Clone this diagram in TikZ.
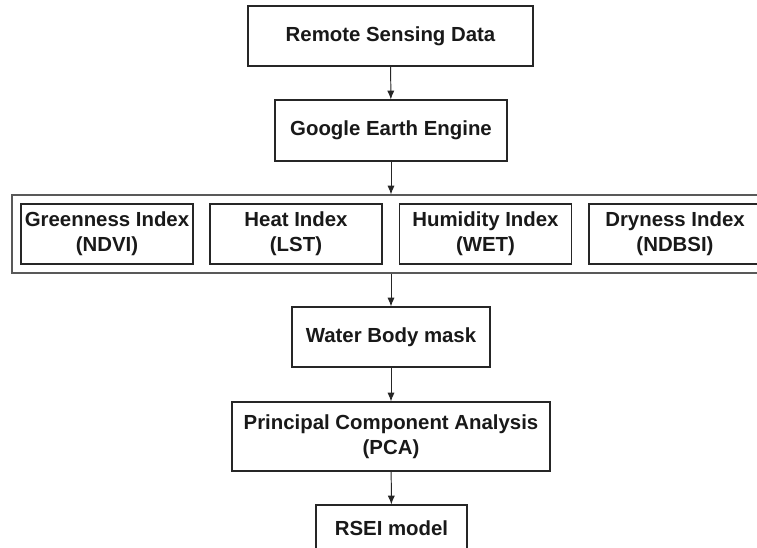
\documentclass[tikz,border=0pt]{standalone}
\usepackage{fontspec}
\setmainfont{Liberation Sans}
\usetikzlibrary{arrows.meta,positioning}

\begin{document}
\begin{tikzpicture}[x=0.025cm,y=-0.025cm,>=Latex,
  stepbox/.style={draw=black!85,line width=0.8pt,align=center,inner sep=2pt,
    font=\fontsize{14.5}{17.8}\selectfont\bfseries,text=black!90},
  groupbox/.style={draw=black!65,line width=0.8pt},
  flow/.style={->,black!85,line width=0.7pt,>={Latex[length=2.2mm,width=1.8mm]}}]
\clip (0,0) rectangle (757,547);
\fill[white] (0,0) rectangle (757,547);
\node[stepbox,minimum width=285*0.025cm,minimum height=60*0.025cm] (rsd) at (390.5,36) {Remote Sensing Data};
\node[stepbox,minimum width=232*0.025cm,minimum height=61*0.025cm] (gee) at (391,130.5) {Google Earth Engine};
\node[groupbox,minimum width=758*0.025cm,minimum height=78*0.025cm] (grp) at (391,234) {};
\node[stepbox,minimum width=172*0.025cm,minimum height=60*0.025cm] (gi) at (107,234) {Greenness Index\\(NDVI)};
\node[stepbox,minimum width=172*0.025cm,minimum height=60*0.025cm] (hi) at (296,234) {Heat Index\\(LST)};
\node[stepbox,minimum width=172*0.025cm,minimum height=60*0.025cm] (wi) at (485.5,234) {Humidity Index\\(WET)};
\node[stepbox,minimum width=172*0.025cm,minimum height=60*0.025cm] (di) at (675,234) {Dryness Index\\(NDBSI)};
\node[stepbox,minimum width=198*0.025cm,minimum height=60*0.025cm] (wbm) at (391,337) {Water Body mask};
\node[stepbox,minimum width=318*0.025cm,minimum height=69*0.025cm] (pca) at (391,436.5) {Principal Component Analysis\\(PCA)};
\node[stepbox,minimum width=151*0.025cm,minimum height=46*0.025cm] (rsei) at (391.5,528) {RSEI model};
\draw[flow] (rsd)--(gee);
\draw[flow] (gee)--(grp.north);
\draw[flow] (grp.south)--(wbm);
\draw[flow] (wbm)--(pca);
\draw[flow] (pca)--(rsei);
\end{tikzpicture}
\end{document}
